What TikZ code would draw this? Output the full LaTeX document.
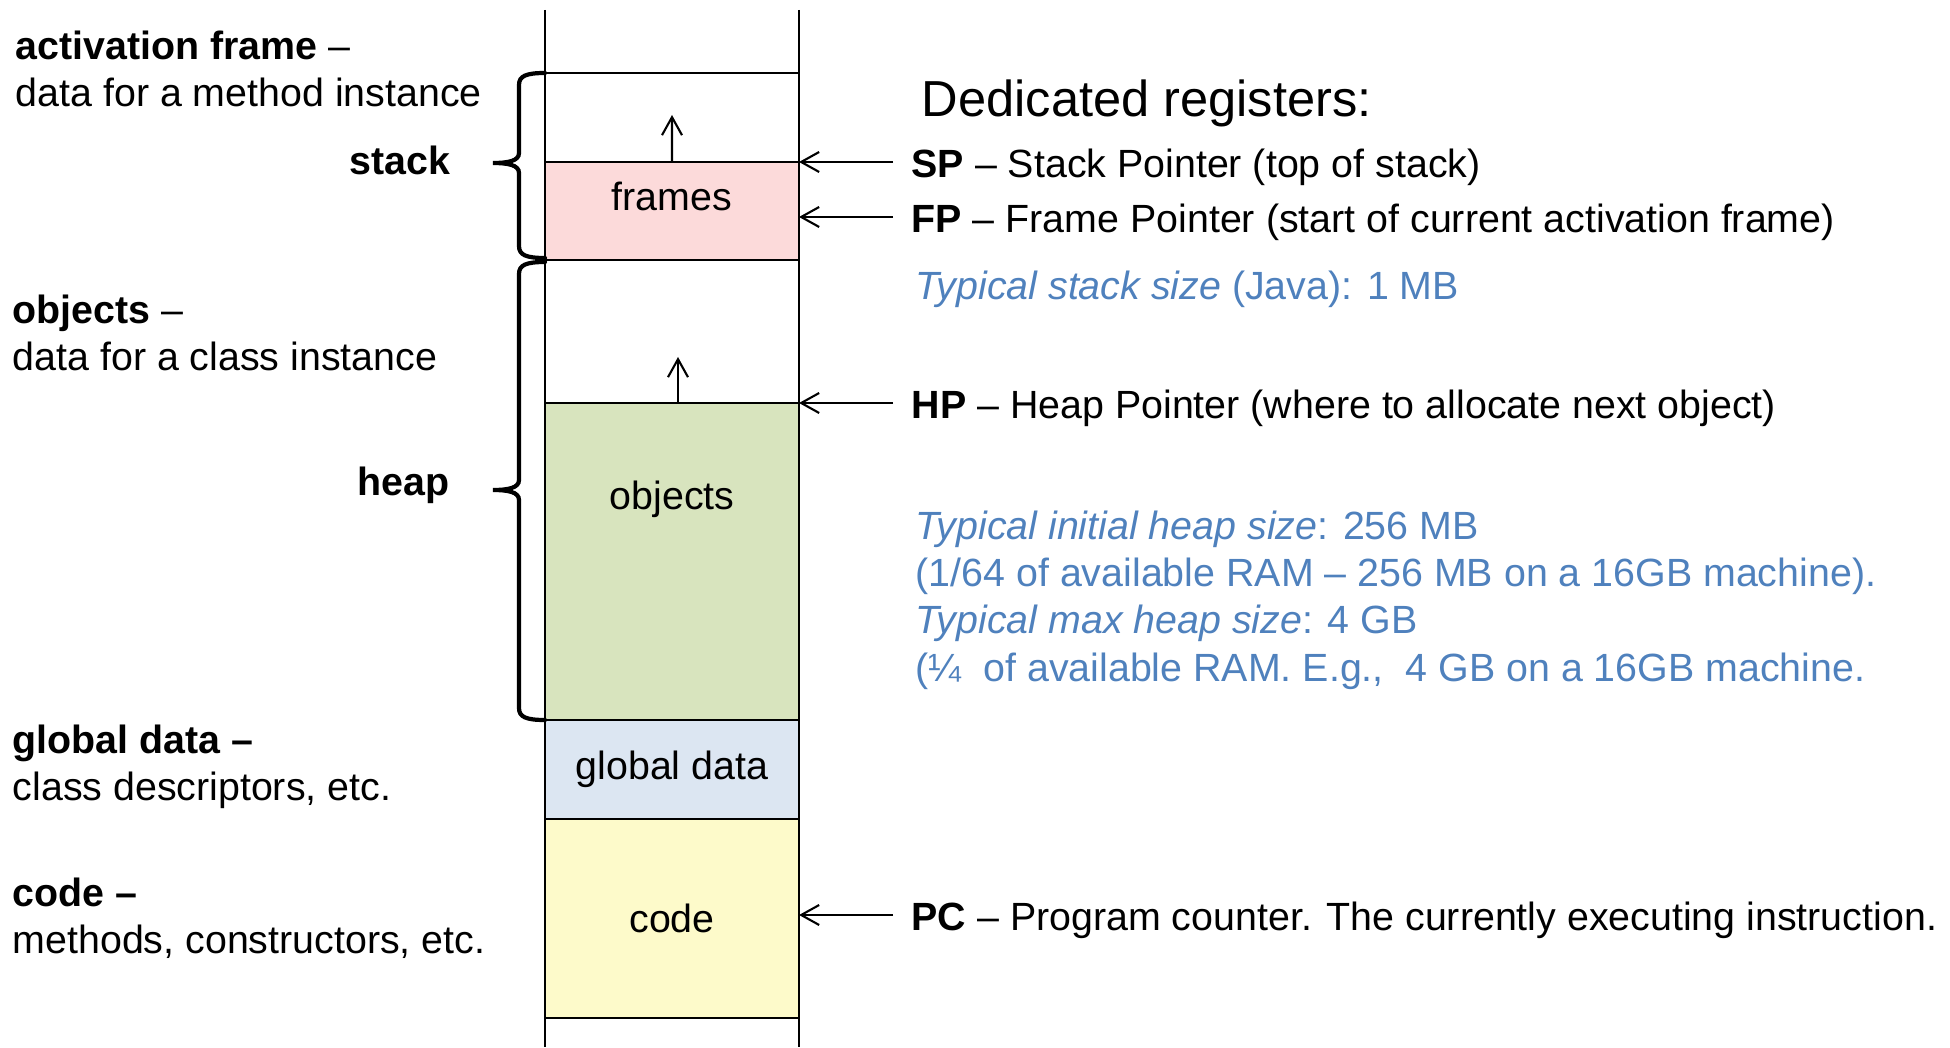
\documentclass[tikz,border=0pt]{standalone}
\usepackage{fontspec}
\setmainfont{Liberation Sans}
\definecolor{framepink}{RGB}{252, 218, 218}
\definecolor{objgreen}{RGB}{216, 228, 190}
\definecolor{globblue}{RGB}{220, 230, 242}
\definecolor{codeyellow}{RGB}{253, 250, 202}
\definecolor{noteblue}{RGB}{79, 129, 189}
\usetikzlibrary{arrows.meta, positioning}

\begin{document}
\begin{tikzpicture}[
  seg/.style={draw, line width=0.7pt, minimum width=2.54cm, inner sep=0pt, outer sep=0pt, anchor=south west, font=\fontsize{11.2}{13.4}\selectfont},
  segtxt/.style={inner sep=0pt, font=\fontsize{11.2}{13.4}\selectfont},
  desc/.style={anchor=west, align=left, inner sep=0pt, font=\fontsize{11.2}{13.4}\selectfont},
  side/.style={anchor=east, inner sep=0pt, font=\fontsize{11.2}{13.4}\selectfont\bfseries},
  reglbl/.style={anchor=west, inner xsep=0.18cm, inner ysep=0pt, font=\fontsize{11.2}{13.4}\selectfont},
  note/.style={anchor=west, align=left, inner sep=0pt, text=noteblue, font=\fontsize{11.2}{13.5}\selectfont},
  ptr/.style={line width=0.6pt, -{Straight Barb[length=1.8mm, width=2mm]}},
  bracket/.style={line width=1.2pt, line cap=round}
]
  \useasboundingbox (0,0) rectangle (19.5,10.47);

  % Memory column
  \draw[line width=0.6pt] (5.45,10.37) -- (5.45,0) (7.99,10.37) -- (7.99,0);

  \node[seg, minimum height=0.89cm] (stacktop) at (5.45,8.85) {};
  \node[seg, fill=framepink, minimum height=0.98cm] (frames) at (5.45,7.87) {};
  \node[seg, minimum height=1.43cm] (heaptop) at (5.45,6.44) {};
  \node[seg, fill=objgreen, minimum height=3.17cm] (objects) at (5.45,3.27) {};
  \node[seg, fill=globblue, minimum height=0.99cm] (globaldata) at (5.45,2.28) {global data};
  \node[seg, fill=codeyellow, minimum height=1.99cm] (code) at (5.45,0.29) {code};

  \node[segtxt] (framestxt) at ([yshift=-0.34cm]frames.north) {frames};
  \node[segtxt] (objectstxt) at ([yshift=-0.96cm]objects.north) {objects};

  % Growth arrows
  \coordinate (sgrow) at (6.72,9.32);
  \coordinate (hgrow) at (6.78,6.90);
  \draw[ptr] (frames.north) -- (sgrow);
  \draw[ptr] (objects.north -| hgrow) -- (hgrow);

  % Braces (top/tip/bottom)
  \foreach \t/\m/\b in {9.74/8.84/7.89, 7.85/5.57/3.27} {
    \draw[bracket] (5.45,\t) .. controls (5.26,\t) and (5.19,\t-0.03) .. (5.19,\t-0.12)
      -- (5.19,\m+0.10) .. controls (5.19,\m+0.02) and (5.08,\m) .. (4.93,\m)
      .. controls (5.08,\m) and (5.19,\m-0.02) .. (5.19,\m-0.10)
      -- (5.19,\b+0.12) .. controls (5.19,\b+0.03) and (5.26,\b) .. (5.45,\b);
  }

  % Left labels
  \node[desc] (actlbl) at (0.15,9.785) {\textbf{activation frame} –\\data for a method instance};
  \node[side] (stacklbl) at (4.51,8.87) {stack};
  \node[desc] (objlbl) at (0.12,7.14) {\textbf{objects} –\\data for a class instance};
  \node[side] (heaplbl) at (4.50,5.62) {heap};
  \node[desc] (globlbl) at (0.12,2.80) {\textbf{global data –}\\class descriptors, etc.};
  \node[desc] (codelbl) at (0.12,1.29) {\textbf{code –}\\methods, constructors, etc.};

  % Registers
  \node[anchor=west, inner sep=0pt, font=\fontsize{14.4}{17}\selectfont] (dedicated) at (9.21,9.44) {Dedicated registers:};
  \foreach \reg/\y/\what in {SP/8.85/Stack Pointer (top of stack), FP/8.30/Frame Pointer (start of current activation frame), HP/6.44/Heap Pointer (where to allocate next object), PC/1.32/Program counter. The currently executing instruction.} {
    \coordinate (\reg-tip) at (7.99,\y);
    \node[reglbl] (\reg) at (8.93,\y-0.05) {\textbf{\reg} – \what};
    \draw[ptr] (\reg.west |- \reg-tip) -- (\reg-tip);
  }

  % Sizes
  \node[note] (stacksize) at (9.15,7.58) {\textit{Typical stack size} (Java): 1 MB};
  \node[note] (heapsize) at (9.15,4.47) {\textit{Typical initial heap size}: 256 MB\\(1/64 of available RAM – 256 MB on a 16GB machine).\\\textit{Typical max heap size}: 4 GB\\(¼~ of available RAM. E.g.,~ 4 GB on a 16GB machine.};
\end{tikzpicture}
\end{document}
